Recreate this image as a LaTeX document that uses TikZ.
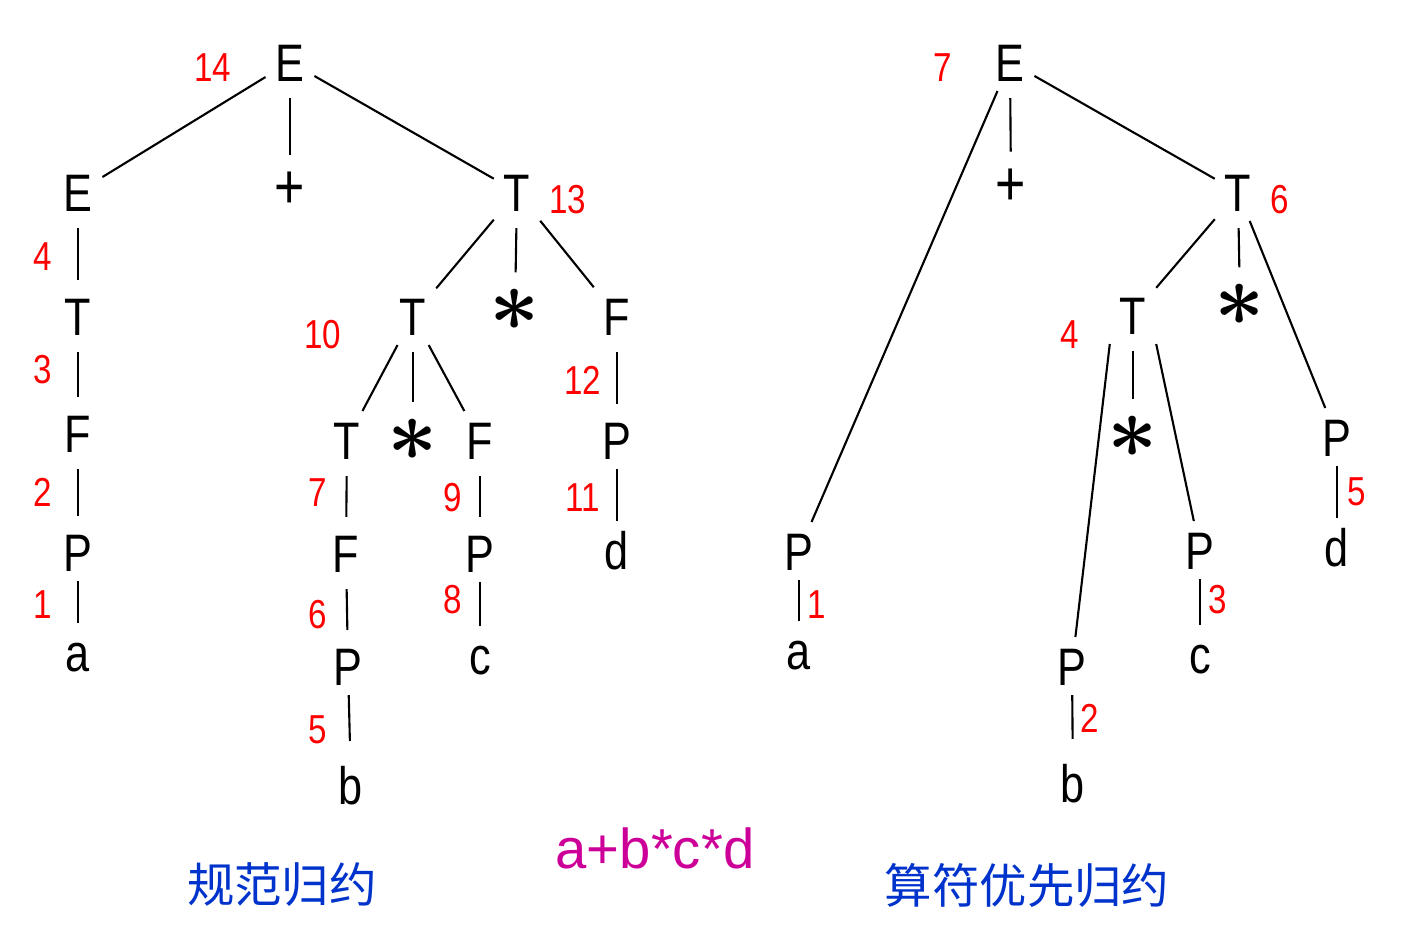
\documentclass[tikz,border=0pt]{standalone}
\usepackage{fontspec}
\usepackage{tikz}
\usetikzlibrary{positioning}
\usepackage{xcolor}
\newfontfamily\symfont[FakeStretch=0.82]{Liberation Sans}
\newfontfamily\exprfont{Liberation Sans}
\newfontfamily\cjkfont{Noto Sans CJK SC}
\definecolor{numred}{RGB}{255,0,0}
\definecolor{titleblue}{RGB}{0,51,204}
\definecolor{exprpink}{RGB}{204,0,153}

\begin{document}
\begin{tikzpicture}[x=0.01cm,y=-0.01cm,line width=0.6pt,
    sym/.style={font=\symfont\fontsize{15}{15}\selectfont, inner sep=0pt, outer sep=0.1cm, text height=0.38cm, text depth=0pt},
    op/.style={font=\symfont\fontsize{18}{18}\selectfont, inner sep=0pt, outer sep=0.1cm},
    star/.style={font=\fontsize{25}{25}\selectfont\boldmath, inner sep=0pt, outer sep=0.1cm},
    vedge/.style={shorten <=0.07cm, shorten >=0.07cm},
    tailedge/.style={shorten >=0.15cm},
    num/.style={font=\symfont\fontsize{11.5}{12}\selectfont, text=numred, inner sep=0pt}]
\useasboundingbox (0,0) rectangle (1402,941);

% left tree
		\node[sym] (lE0) at (290, 62)     {E};
		\node[sym] (lE1) at (78, 192)     {E};
		\node[op]  (lPlus) at (290, 190)  {+};
		\node[sym] (lT1) at (517, 192)    {T};
		\node[sym] (lT2) at (78, 316)     {T};
		\node[sym] (lF1) at (78, 433)     {F};
		\node[sym] (lP1) at (78, 552)     {P};
		\node[sym] (la) at (78, 652)      {a};
		\node[sym] (lT3) at (413, 316)    {T};
		\node[star] (lAst1) at (515, 310) {$\ast$};
		\node[sym] (lF2) at (617, 316)    {F};
		\node[sym] (lT4) at (347, 440)    {T};
		\node[star] (lAst2) at (413, 440) {$\ast$};
		\node[sym] (lF3) at (480, 440)    {F};
		\node[sym] (lP2) at (617, 440)    {P};
		\node[sym] (ld) at (617, 550)     {d};
		\node[sym] (lF4) at (346, 553)    {F};
		\node[sym] (lP3) at (348, 666)    {P};
		\node[sym] (lb) at (351, 785)     {b};
		\node[sym] (lP4) at (480, 553)    {P};
		\node[sym] (lc) at (480, 655)     {c};

		\path[-] (lE0) edge (lE1);
		\path[-] (lE0) edge[vedge] (lPlus);
		\path[-] (lE0) edge (lT1);
		\path[-] (lE1) edge[vedge] (lT2);
		\path[-] (lT2) edge[vedge] (lF1);
		\path[-] (lF1) edge[vedge] (lP1);
		\path[-] (lP1) edge (la);
		\path[-] (lT1) edge (lT3);
		\path[-] (lT1) edge[vedge] (lAst1);
		\path[-] (lT1) edge (lF2);
		\path[-] (lT3) edge (lT4);
		\path[-] (lT3) edge[vedge] (lAst2);
		\path[-] (lT3) edge (lF3);
		\path[-] (lF2) edge[vedge] (lP2);
		\path[-] (lP2) edge (ld);
		\path[-] (lT4) edge[vedge] (lF4);
		\path[-] (lF4) edge[vedge] (lP3);
		\path[-] (lP3) edge[tailedge] (lb);
		\path[-] (lF3) edge[vedge] (lP4);
		\path[-] (lP4) edge (lc);

		\node[num] (ln14) at (213, 68)  {14};
		\node[num] (ln13) at (568, 200) {13};
		\node[num] (ln4) at (43, 257)   {4};
		\node[num] (ln3) at (43, 370)   {3};
		\node[num] (ln2) at (43, 492)   {2};
		\node[num] (ln1) at (43, 605)   {1};
		\node[num] (ln10) at (323, 335) {10};
		\node[num] (ln12) at (583, 380) {12};
		\node[num] (ln11) at (583, 498) {11};
		\node[num] (ln7) at (318, 493)  {7};
		\node[num] (ln6) at (318, 615)  {6};
		\node[num] (ln5) at (318, 730)  {5};
		\node[num] (ln9) at (453, 498)  {9};
		\node[num] (ln8) at (453, 600)  {8};

% right tree
		\node[sym] (rE0) at (1010, 62)    {E};
		\node[op]  (rPlus) at (1011, 187) {+};
		\node[sym] (rT1) at (1238, 192)   {T};
		\node[sym] (rT2) at (1133, 315)   {T};
		\node[star] (rAst1) at (1240, 305) {$\ast$};
		\node[sym] (rP5) at (1337, 437)   {P};
		\node[sym] (rd) at (1337, 547)    {d};
		\node[star] (rAst2) at (1133, 437) {$\ast$};
		\node[sym] (rP3) at (1200, 550)   {P};
		\node[sym] (rc) at (1200, 654)    {c};
		\node[sym] (rP2) at (1072, 666)   {P};
		\node[sym] (rb) at (1073, 783)    {b};
		\node[sym] (rP1) at (799, 551)    {P};
		\node[sym] (ra) at (799, 650)     {a};

		\path[-] (rE0) edge (rP1);
		\path[-] (rE0) edge[vedge] (rPlus);
		\path[-] (rE0) edge (rT1);
		\path[-] (rT1) edge (rT2);
		\path[-] (rT1) edge[vedge] (rAst1);
		\path[-] (rT1) edge (rP5);
		\path[-] (rT2.south west) edge (rP2);
		\path[-] (rT2) edge[vedge] (rAst2);
		\path[-] (rT2.south east) edge (rP3);
		\path[-] (rP1) edge (ra);
		\path[-] (rP2) edge[tailedge] (rb);
		\path[-] (rP3) edge (rc);
		\path[-] (rP5) edge (rd);

		\node[num] (rn7) at (943, 68)   {7};
		\node[num] (rn6) at (1280, 200) {6};
		\node[num] (rn4) at (1070, 335) {4};
		\node[num] (rn1) at (817, 605)  {1};
		\node[num] (rn3) at (1218, 600) {3};
		\node[num] (rn5) at (1357, 492) {5};
		\node[num] (rn2) at (1090, 718) {2};

% captions
		\node[font=\exprfont\fontsize{16}{16}\selectfont, text=exprpink] (expr) at (655, 848) {a+b*c*d};
		\node[font=\cjkfont\fontsize{13.5}{14}\selectfont, text=titleblue] (leftTitle) at (282, 885) {规范归约};
		\node[font=\cjkfont\fontsize{13.5}{14}\selectfont, text=titleblue] (rightTitle) at (1027, 885) {算符优先归约};
\end{tikzpicture}
\end{document}
